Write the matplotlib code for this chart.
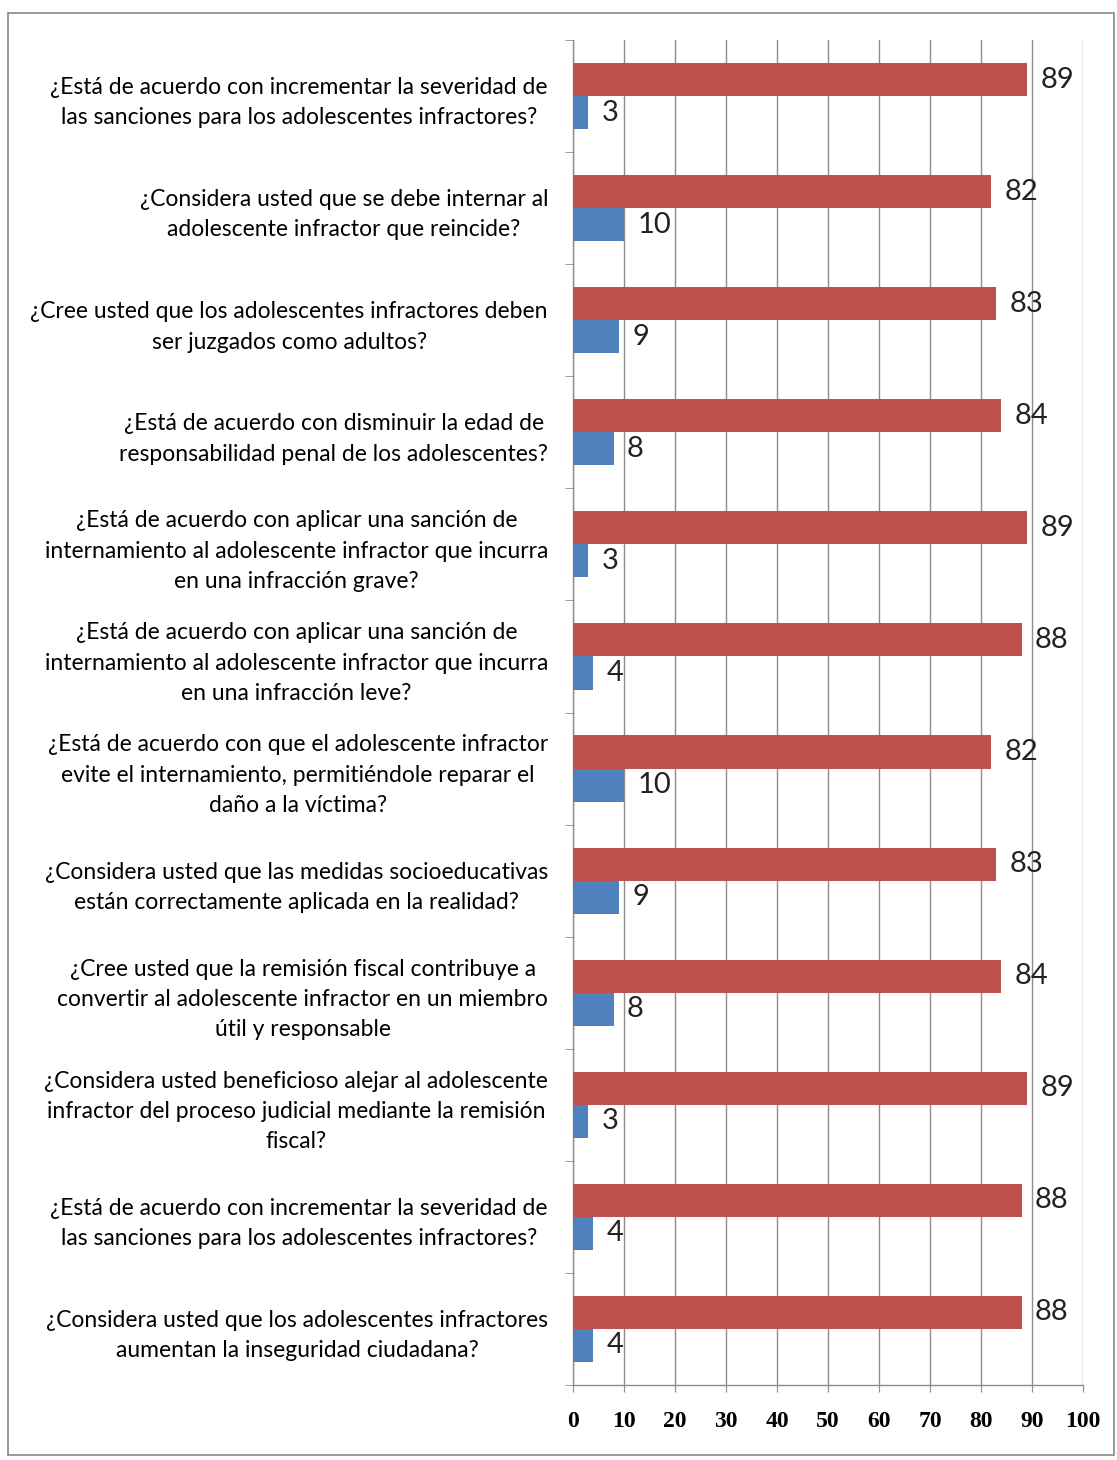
import matplotlib
matplotlib.use("Agg")
import matplotlib.pyplot as plt
import numpy as np
from matplotlib.patches import Rectangle

categories = [
    "¿Está de acuerdo con incrementar la severidad de\nlas sanciones para los adolescentes infractores?",
    "¿Considera usted que se debe internar al\nadolescente infractor que reincide?",
    "¿Cree usted que los adolescentes infractores deben\nser juzgados como adultos?",
    "¿Está de acuerdo con disminuir la edad de\nresponsabilidad penal de los adolescentes?",
    "¿Está de acuerdo con aplicar una sanción de\ninternamiento al adolescente infractor que incurra\nen una infracción grave?",
    "¿Está de acuerdo con aplicar una sanción de\ninternamiento al adolescente infractor que incurra\nen una infracción leve?",
    "¿Está de acuerdo con que el adolescente infractor\nevite el internamiento, permitiéndole reparar el\ndaño a la víctima?",
    "¿Considera usted que las medidas socioeducativas\nestán correctamente aplicada en la realidad?",
    "¿Cree usted que la remisión fiscal contribuye a\nconvertir al adolescente infractor en un miembro\nútil y responsable",
    "¿Considera usted beneficioso alejar al adolescente\ninfractor del proceso judicial mediante la remisión\nfiscal?",
    "¿Está de acuerdo con incrementar la severidad de\nlas sanciones para los adolescentes infractores?",
    "¿Considera usted que los adolescentes infractores\naumentan la inseguridad ciudadana?",
]
red_values = [89, 82, 83, 84, 89, 88, 82, 83, 84, 89, 88, 88]
blue_values = [3, 10, 9, 8, 3, 4, 10, 9, 8, 3, 4, 4]
x_ticks = [0, 10, 20, 30, 40, 50, 60, 70, 80, 90, 100]

RED = "#C0504D"
BLUE = "#4F81BD"
GRID = "#8C8C8C"

W, H = 1117, 1460
fig = plt.figure(figsize=(W / 100, H / 100), dpi=100)
ax = fig.add_axes([573 / W, 1 - 1385 / H, (1083 - 573) / W, (1385 - 40) / H])

n = len(categories)
y = np.arange(n)
h = 0.295
ax.barh(y - h / 2, red_values, height=h, color=RED, zorder=3)
ax.barh(y + h / 2, blue_values, height=h, color=BLUE, zorder=3)

for yi, v in zip(y, red_values):
    ax.text(v + 2.6, yi - h / 2, str(v), va="center", ha="left",
            fontsize=21, family="Lato", color="#222222")
for yi, v in zip(y, blue_values):
    ax.text(v + 2.6, yi + h / 2, str(v), va="center", ha="left",
            fontsize=21, family="Lato", color="#222222")

ax.set_xlim(0, 100)
ax.set_ylim(n - 0.5, -0.5)
ax.set_xticks(x_ticks)
ax.set_xticklabels([str(t) for t in x_ticks], family="Liberation Serif",
                   fontweight="bold", fontsize=17)
ax.tick_params(axis="x", length=5, color=GRID, pad=14, direction="out")
ax.set_yticks(y)
ax.set_yticklabels(categories, family="Lato", fontsize=16.5,
                   multialignment="center", linespacing=1.55)
ax.tick_params(axis="y", length=0, pad=18)
ax.set_yticks(np.arange(-0.5, n, 1.0), minor=True)
ax.tick_params(axis="y", which="minor", length=6, color=GRID, direction="out")

ax.xaxis.grid(True, color=GRID, linewidth=1.0, zorder=0)
ax.set_axisbelow(True)
for s in ["top", "right"]:
    ax.spines[s].set_visible(False)
for s in ["left", "bottom"]:
    ax.spines[s].set_color(GRID)
    ax.spines[s].set_linewidth(1.0)

fig.patches.append(Rectangle((8 / W, 1 - 1455 / H), (1114 - 8) / W, (1455 - 13) / H,
                             transform=fig.transFigure, fill=False,
                             edgecolor="#888888", linewidth=1.2))

fig.savefig("out.png", dpi=100)
